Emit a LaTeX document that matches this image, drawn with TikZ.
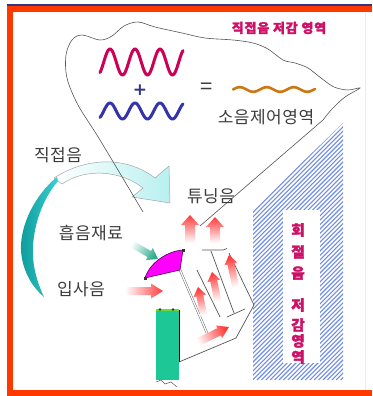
\documentclass[tikz,border=0pt]{standalone}
\usepackage{fontspec}
\usetikzlibrary{calc}
\newfontfamily\kr{Noto Sans CJK KR}
\newfontfamily\krheavy{Noto Sans CJK KR}[FakeBold=2.2]
\newfontfamily\krls{Noto Sans CJK KR}[LetterSpace=3]
\newfontfamily\krtitle{Noto Sans CJK KR}[LetterSpace=6, FakeBold=2.2]
\newfontfamily\dejavu{DejaVu Sans}

\definecolor{borderred}{RGB}{255,56,0}
\definecolor{topnavy}{RGB}{51,51,136}
\definecolor{wavered}{RGB}{204,0,85}
\definecolor{waveblue}{RGB}{51,51,170}
\definecolor{waveorange}{RGB}{204,119,17}
\definecolor{titlered}{RGB}{204,17,102}
\definecolor{textgray}{RGB}{60,60,60}
\definecolor{linegray}{RGB}{85,85,85}
\definecolor{hatchblue}{RGB}{110,140,230}
\definecolor{tealdark}{RGB}{14,156,156}
\definecolor{teallight}{RGB}{60,207,207}
\definecolor{cyanlight}{RGB}{184,240,240}
\definecolor{fanpink}{RGB}{255,0,255}
\definecolor{fanedge}{RGB}{80,0,80}
\definecolor{panelgreen}{RGB}{30,200,150}
\definecolor{edgegreen}{RGB}{102,224,51}
\definecolor{arrowred}{RGB}{255,60,60}
\definecolor{arrowteal}{RGB}{45,170,138}

% block arrow: #1 style, #2 tail, #3 tip, #4 shaft half width, #5 head half width, #6 head length
\newcommand\blockarrow[6]{%
  \coordinate (ba-b) at ($(#3)!#6!(#2)$);
  \path[#1] ($(#2)!#4!90:(#3)$) -- ($(ba-b)!#4!90:(#3)$) -- ($(ba-b)!#5!90:(#3)$) -- (#3)
    -- ($(ba-b)!#5!-90:(#3)$) -- ($(ba-b)!#4!-90:(#3)$) -- ($(#2)!#4!-90:(#3)$) -- cycle;}

\begin{document}
\begin{tikzpicture}[x=1pt,y=-1pt,
  lbl/.style={font=\krls\fontsize{17}{17}\selectfont, text=textgray, inner sep=0pt},
  titlelbl/.style={font=\krtitle\bfseries\fontsize{13}{13}\selectfont, text=titlered, inner sep=0pt},
  vlbl/.style={font=\krheavy\bfseries\fontsize{14.5}{14.5}\selectfont, text=titlered, inner sep=0pt},
  outline/.style={draw=linegray, line width=0.6pt},
  louver/.style={draw=linegray, line width=0.7pt},
  redfade/.style={bottom color=white, top color=arrowred},
  tealfade/.style={bottom color=white, top color=arrowteal},
]
\useasboundingbox (0,0) rectangle (372,396);

% frame
\fill[topnavy] (7,4.5) rectangle (372,6.3);
\fill[borderred] (7,6.3) rectangle (372,12.5);
\fill[borderred] (7,6.3) rectangle (13.3,396);
\fill[borderred] (7,390) rectangle (372,396);
\draw[gray!15, line width=0.6pt] (365,13) -- (365,390);

% hatched diffraction zone
\begin{scope}
  \clip (253,210) -- (343,123) -- (343,380) -- (253,380) -- cycle;
  \foreach \k in {0,...,82} \draw[hatchblue, line width=1.1pt] ({-7+\k*4.4},380) -- ++(260,-260);
\end{scope}
\fill[white] (283,210) rectangle (320,363);

% curved arrow of the direct sound
\path[draw=gray!70, line width=0.5pt, left color=white, right color=cyanlight]
  (54,178) .. controls (85,158) and (125,155) .. (155,178) -- (169,166) -- (170,203)
  -- (132,197) -- (143,188) .. controls (120,170) and (85,168) .. (62,184) -- cycle;
\path[left color=tealdark, right color=teallight]
  (57,177) .. controls (35,195) and (20,225) .. (21,250) .. controls (22,270) and (32,287) .. (44,297)
  .. controls (37,282) and (32,265) .. (33,247) .. controls (34,225) and (42,200) .. (58,181) -- cycle;

% outline of the controlled zone
\draw[outline] plot[smooth, tension=0.55] coordinates {(143,212) (100,140) (78,105) (67,78) (66,55)
  (72,40) (82,35) (100,40) (112,36) (124,26) (138,22) (155,27) (182,33) (205,38) (233,40) (253,43)
  (268,49) (283,60) (295,63) (308,68) (321,78) (334,87) (348,90) (360,88) (345,97) (332,109) (323,120)}
  -- (200,226);

% waves
\draw[wavered, line width=3pt, line cap=round, line join=round] plot[variable=\t, domain=0:83, samples=120]
  ({100+\t}, {62 - 13*cos(14.4*(\t-10))});
\draw[waveblue, line width=3pt, line cap=round, line join=round] plot[variable=\t, domain=0:83, samples=120]
  ({100+\t}, {111 - 8*cos(14.4*(\t-10))});
\draw[waveorange, line width=2.6pt, line cap=round, line join=round] plot[variable=\t, domain=0:82, samples=120]
  ({233+\t}, {89.5 - 2.3*sin(13.33*\t)});
\node[font=\dejavu\bfseries\fontsize{17}{17}\selectfont, text=topnavy, inner sep=0pt] (plus) at (140,90) {+};
\node[font=\kr\fontsize{22}{22}\selectfont, text=textgray, inner sep=0pt] (equals) at (207,89) {=};

% labels
\node[titlelbl] (t-title) at (279,28) {직접음 저감 영역};
\node[lbl] (t-zone) at (266,117) {소음제어영역};
\node[lbl] (t-direct) at (58,155) {직접음};
\node[lbl] (t-tune) at (211,196) {튜닝음};
\node[lbl] (t-absorb) at (91,233) {흡음재료};
\node[lbl] (t-inc) at (81,289) {입사음};
\node[vlbl] (v1) at (298,230) {회};
\node[vlbl] (v2) at (298,252) {절};
\node[vlbl] (v3) at (298,273) {음};
\node[vlbl] (v4) at (298,305) {저};
\node[vlbl] (v5) at (298,325) {감};
\node[vlbl] (v6) at (298,341) {영};
\node[vlbl] (v7) at (298,357) {역};

% absorber fan and its strut
\coordinate (mgA) at (145,278);
\coordinate (mgB) at (183,250);
\coordinate (mgC) at (180,270);
\coordinate (strut) at (207,333);
\draw[double=white, double distance=1.3pt, draw=gray!75!black, line width=0.45pt] (mgC) -- (strut);
\filldraw[fill=fanpink, draw=fanedge, line width=0.6pt]
  (mgA) .. controls (150,262) and (168,251) .. (mgB) -- (mgC) -- cycle;
\fill[black!80] ($(mgA)+(-1.5,-1.5)$) rectangle ++(3,3);
\fill[black!80] ($(mgB)+(-1.5,-1.5)$) rectangle ++(3,3);

% louvers
\coordinate (la1) at (197,270); \coordinate (la2) at (220,317);
\coordinate (lb1) at (211,251); \coordinate (lb2) at (234,313);
\coordinate (lc1) at (229,253); \coordinate (lc2) at (254,305);
\coordinate (ld1) at (202,250); \coordinate (ld2) at (223,250);
\coordinate (le1) at (227,317); \coordinate (le2) at (245,309);
\coordinate (lf1) at (179,362); \coordinate (lf2) at (236,338);
\draw[louver] (la1) -- (la2);
\draw[louver] (lb1) -- (lb2);
\draw[louver] (lc1) -- (lc2);
\draw[louver] (ld1) -- (ld2) -- ++(4,-1.5);
\draw[louver] (le1) -- (le2);
\draw[louver] (lf1) -- (lf2) -- (lc2);

% barrier panel
\fill[panelgreen] (156,310) rectangle (179,380);
\draw[edgegreen, line width=1.5pt] (156,310) -- (179,310);
\fill[black!80] (160,309.5) circle (1.3);
\fill[black!80] (173,309.5) circle (1.3);
\draw[black, line width=0.8pt] (179,310) -- (lf1);
\draw[gray!70!black, line width=0.5pt] (156,382) -- (161,380) -- (165,384) -- (171,382) -- (177,387);

% sound arrows
\coordinate (ai-t) at (125,291); \coordinate (ai-p) at (163,291);
\blockarrow{redfade, shading angle=-90}{ai-t}{ai-p}{4pt}{7.5pt}{12pt}
\coordinate (au-t) at (190,243); \coordinate (au-p) at (190,215);
\blockarrow{redfade, shading angle=0}{au-t}{au-p}{5pt}{9pt}{10pt}
\coordinate (av-t) at (215,243); \coordinate (av-p) at (215,217);
\blockarrow{redfade, shading angle=0}{av-t}{av-p}{5pt}{9pt}{10pt}
\coordinate (ae-t) at (204,316); \coordinate (ae-p) at (198,287);
\blockarrow{redfade, shading angle=12}{ae-t}{ae-p}{3.5pt}{6.5pt}{9pt}
\coordinate (af-t) at (218,302); \coordinate (af-p) at (212,272);
\blockarrow{redfade, shading angle=11}{af-t}{af-p}{3.5pt}{6.5pt}{9pt}
\coordinate (ag-t) at (236,288); \coordinate (ag-p) at (229,255);
\blockarrow{redfade, shading angle=12}{ag-t}{ag-p}{3.5pt}{6.5pt}{9pt}
\coordinate (ah-t) at (196,343); \coordinate (ah-p) at (229,327);
\blockarrow{redfade, shading angle=-64}{ah-t}{ah-p}{4pt}{7pt}{11pt}
\coordinate (at-t) at (130,243); \coordinate (at-p) at (158,259);
\blockarrow{tealfade, shading angle=-120}{at-t}{at-p}{3.5pt}{7pt}{10pt}
\end{tikzpicture}
\end{document}
